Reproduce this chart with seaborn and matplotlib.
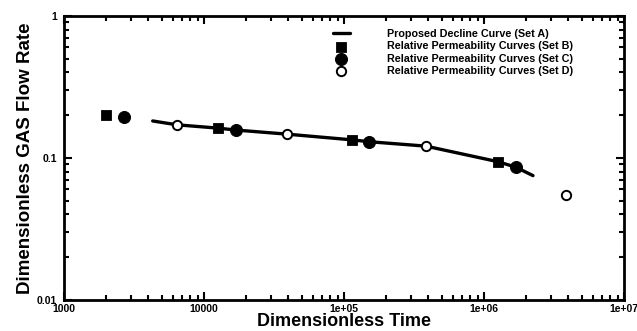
import matplotlib
matplotlib.use("Agg")
import matplotlib.pyplot as plt
import seaborn as sns
import pandas as pd
from matplotlib.ticker import LogLocator, FixedLocator, FixedFormatter, NullFormatter

sns.set_theme(style="ticks")
plt.rcParams['font.family'] = ['Liberation Sans', 'DejaVu Sans']
plt.rcParams['text.color'] = 'black'
plt.rcParams['axes.labelcolor'] = 'black'
plt.rcParams['xtick.color'] = 'black'
plt.rcParams['ytick.color'] = 'black'

# Data
curve_t = [4300, 6400, 12600, 17000, 39000, 114000, 151000, 385000, 1260000, 1690000, 2240000]
curve_q = [0.182, 0.171, 0.162, 0.157, 0.147, 0.134, 0.130, 0.121, 0.094, 0.086, 0.075]
setB_t = [2000, 12600, 114000, 1260000]
setB_q = [0.200, 0.163, 0.134, 0.094]
setC_t = [2680, 16900, 151000, 1690000]
setC_q = [0.194, 0.157, 0.130, 0.086]
setD_t = [6400, 39000, 385000, 3850000]
setD_q = [0.171, 0.147, 0.1216, 0.055]

labels = ["Proposed Decline Curve (Set A)",
          "Relative Permeability Curves (Set B)",
          "Relative Permeability Curves (Set C)",
          "Relative Permeability Curves (Set D)"]
xticks = [1e3, 1e4, 1e5, 1e6, 1e7]
xticklabels = ["1000", "10000", "1e+05", "1e+06", "1e+07"]
yticks = [0.01, 0.1, 1]
yticklabels = ["0.01", "0.1", "1"]

fig = plt.figure(figsize=(6.37, 3.31), dpi=100)
ax = fig.add_axes([0.1005, 0.094, 0.879, 0.858])

dfA = pd.DataFrame({"t": curve_t, "q": curve_q})
sns.lineplot(data=dfA, x="t", y="q", ax=ax, color="black", lw=2.4, label=labels[0])
sns.scatterplot(x=setB_t, y=setB_q, ax=ax, marker="s", s=55, color="black",
                edgecolor="black", label=labels[1], zorder=3)
sns.scatterplot(x=setC_t, y=setC_q, ax=ax, marker="o", s=75, color="black",
                edgecolor="black", label=labels[2], zorder=3)
sns.scatterplot(x=setD_t, y=setD_q, ax=ax, marker="o", s=45, facecolor="white",
                edgecolor="black", linewidth=1.4, label=labels[3], zorder=3)

ax.set_xscale("log")
ax.set_yscale("log")
ax.set_xlim(1e3, 1e7)
ax.set_ylim(0.01, 1)

ax.xaxis.set_major_locator(FixedLocator(xticks))
ax.xaxis.set_major_formatter(FixedFormatter(xticklabels))
ax.yaxis.set_major_locator(FixedLocator(yticks))
ax.yaxis.set_major_formatter(FixedFormatter(yticklabels))
ax.xaxis.set_minor_locator(LogLocator(base=10, subs=range(2, 10)))
ax.yaxis.set_minor_locator(LogLocator(base=10, subs=range(2, 10)))
ax.xaxis.set_minor_formatter(NullFormatter())
ax.yaxis.set_minor_formatter(NullFormatter())

ax.tick_params(which="both", direction="in", top=True, right=True, color="black", width=1.5)
ax.tick_params(which="major", length=6, labelsize=7.5)
ax.tick_params(axis="x", which="major", pad=3)
ax.tick_params(axis="y", which="major", pad=5)
ax.tick_params(which="minor", length=3.5)
for lab in ax.get_xticklabels() + ax.get_yticklabels():
    lab.set_fontweight("bold")
for sp in ax.spines.values():
    sp.set_linewidth(2)
    sp.set_color("black")

ax.set_xlabel("Dimensionless Time", fontsize=13, fontweight="bold", labelpad=-1)
ax.set_ylabel("Dimensionless GAS Flow Rate", fontsize=13.5, fontweight="bold", labelpad=2)

leg = ax.legend(loc="upper right", bbox_to_anchor=(0.922, 0.98), frameon=False,
                prop={"size": 7.75, "weight": "bold"}, handlelength=1.6,
                handletextpad=3.4, labelspacing=0.22, borderaxespad=0.3)

fig.savefig("out.png", dpi=100)
